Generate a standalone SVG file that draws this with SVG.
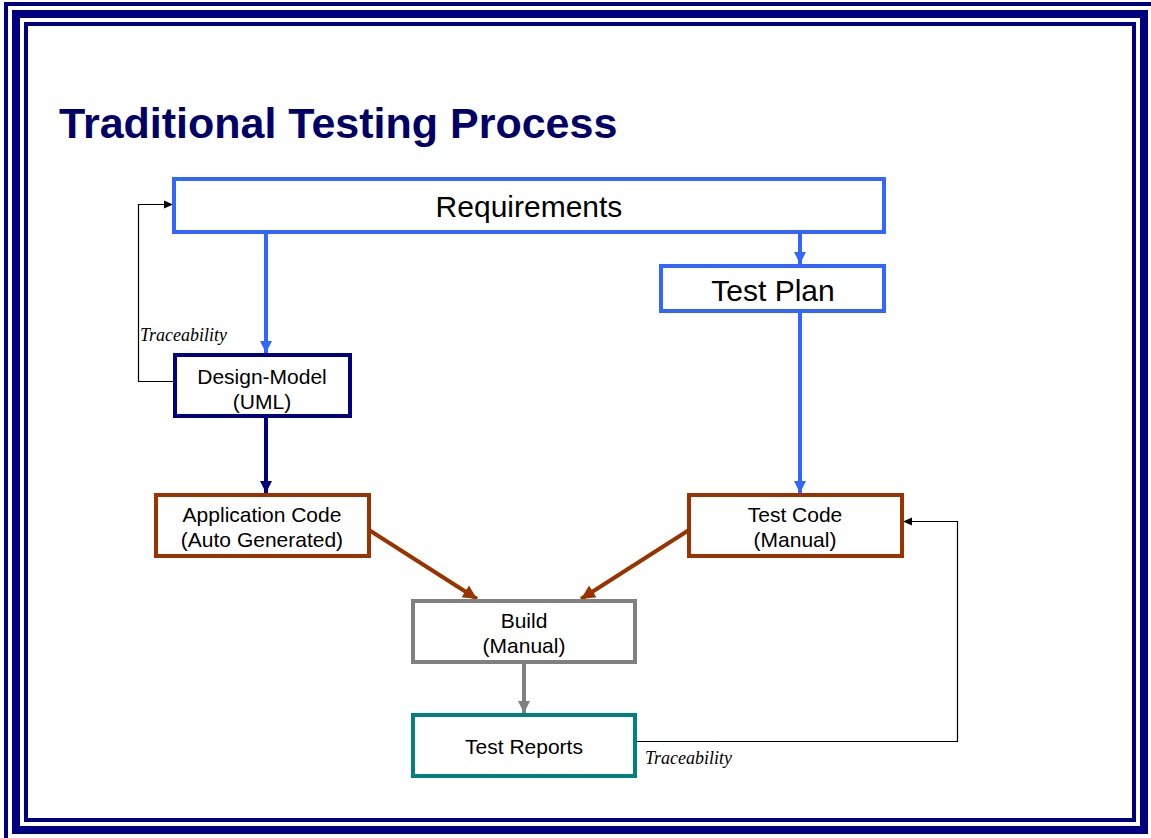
<svg xmlns="http://www.w3.org/2000/svg" width="1151" height="838" viewBox="0 0 1151 838">
<style>
.frame{fill:none;stroke:#000080}
.box{fill:#fff;stroke-width:4}
.lbl{font-family:"Liberation Sans",Arial,sans-serif;fill:#000;text-anchor:middle}
.big{font-size:30px}
.mid{font-size:21px}
.tr{font-family:"Liberation Serif","Times New Roman",serif;font-style:italic;font-size:18px;fill:#000}
.thick{fill:none;stroke-width:4}
.thin{fill:none;stroke:#000;stroke-width:1.2}
</style>
<defs>
<marker id="aBlue" markerUnits="userSpaceOnUse" markerWidth="14" markerHeight="14" refX="12" refY="7" orient="auto"><path d="M0,1 L12,7 L0,13 z" fill="#3366FF"/></marker>
<marker id="aNavy" markerUnits="userSpaceOnUse" markerWidth="14" markerHeight="14" refX="12" refY="7" orient="auto"><path d="M0,1 L12,7 L0,13 z" fill="#000080"/></marker>
<marker id="aBrown" markerUnits="userSpaceOnUse" markerWidth="16" markerHeight="16" refX="14" refY="8" orient="auto"><path d="M0,1 L14,8 L0,15 z" fill="#993300"/></marker>
<marker id="aGray" markerUnits="userSpaceOnUse" markerWidth="14" markerHeight="14" refX="12" refY="7" orient="auto"><path d="M0,1 L12,7 L0,13 z" fill="#808080"/></marker>
<marker id="aBlack" markerUnits="userSpaceOnUse" markerWidth="10" markerHeight="10" refX="9" refY="5" orient="auto"><path d="M0,1 L9,5 L0,9 z" fill="#000"/></marker>
</defs>
<rect width="1151" height="838" fill="#fff"/>
<g id="frame">
<path class="frame" d="M6 838 V4 H1151" stroke-width="4"/>
<rect class="frame" x="16" y="14" width="1128" height="816" stroke-width="8"/>
<rect class="frame" x="26" y="24" width="1108" height="796" stroke-width="4"/>
</g>
<text id="title" x="59" y="138" font-family="'Liberation Sans',Arial,sans-serif" font-weight="bold" font-size="43" fill="#000066">Traditional Testing Process</text>
<g id="connectors">
<line class="thick" stroke="#3366FF" x1="266" y1="232" x2="266" y2="353" marker-end="url(#aBlue)"/>
<line class="thick" stroke="#3366FF" x1="800" y1="232" x2="800" y2="264" marker-end="url(#aBlue)"/>
<line class="thick" stroke="#3366FF" x1="800" y1="311" x2="800" y2="493" marker-end="url(#aBlue)"/>
<line class="thick" stroke="#000080" x1="266" y1="416" x2="266" y2="493" marker-end="url(#aNavy)"/>
<line class="thick" stroke="#993300" x1="369" y1="530" x2="477" y2="599" marker-end="url(#aBrown)"/>
<line class="thick" stroke="#993300" x1="689" y1="530" x2="581" y2="599" marker-end="url(#aBrown)"/>
<line class="thick" stroke="#808080" x1="524" y1="662" x2="524" y2="713" marker-end="url(#aGray)"/>
<path class="thin" d="M175 381.5 H138.5 V204.5 H173" marker-end="url(#aBlack)"/>
<path class="thin" d="M635 741.5 H957.5 V521.5 H903" marker-end="url(#aBlack)"/>
<text class="tr" x="140" y="341">Traceability</text>
<text class="tr" x="645" y="764">Traceability</text>
</g>
<g id="requirements">
<rect class="box" x="174" y="179" width="710" height="53" stroke="#3366FF"/>
<text class="lbl big" x="529" y="217">Requirements</text>
</g>
<g id="testplan">
<rect class="box" x="661" y="266" width="223" height="45" stroke="#3366FF"/>
<text class="lbl big" x="773" y="301">Test Plan</text>
</g>
<g id="designmodel">
<rect class="box" x="175" y="355" width="175" height="61" stroke="#000080"/>
<text class="lbl mid" x="262" y="384">Design-Model</text>
<text class="lbl mid" x="262" y="409">(UML)</text>
</g>
<g id="appcode">
<rect class="box" x="156" y="495" width="213" height="61" stroke="#993300"/>
<text class="lbl mid" x="262" y="522">Application Code</text>
<text class="lbl mid" x="262" y="547">(Auto Generated)</text>
</g>
<g id="testcode">
<rect class="box" x="689" y="495" width="213" height="61" stroke="#993300"/>
<text class="lbl mid" x="795" y="522">Test Code</text>
<text class="lbl mid" x="795" y="547">(Manual)</text>
</g>
<g id="build">
<rect class="box" x="413" y="601" width="222" height="61" stroke="#808080"/>
<text class="lbl mid" x="524" y="628">Build</text>
<text class="lbl mid" x="524" y="653">(Manual)</text>
</g>
<g id="testreports">
<rect class="box" x="413" y="715" width="222" height="61" stroke="#008080"/>
<text class="lbl mid" x="524" y="754">Test Reports</text>
</g>
</svg>
